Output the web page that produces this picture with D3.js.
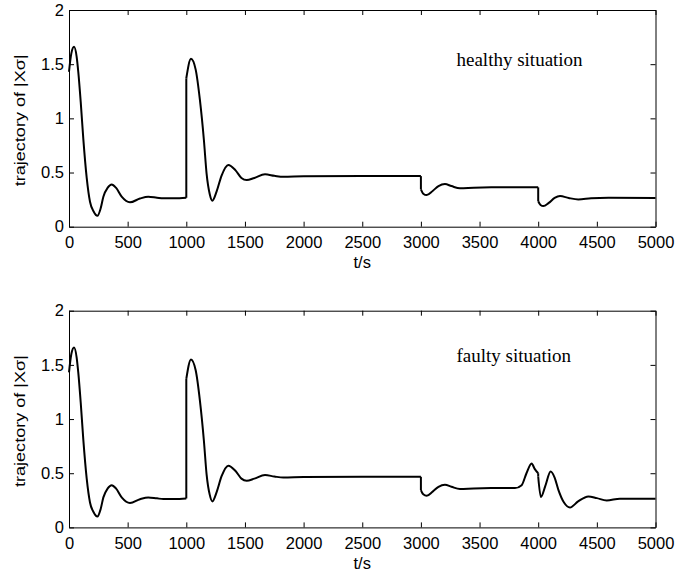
<!DOCTYPE html>
<html>
<head>
<meta charset="utf-8">
<script src="https://cdn.jsdelivr.net/npm/d3@7"></script>
<style>
  body { margin: 0; background: #fff; }
  svg text { fill: #000; }
</style>
</head>
<body>
<div id="chart"></div>
<script>
// x ticks, y ticks
const xTicks = [0, 500, 1000, 1500, 2000, 2500, 3000, 3500, 4000, 4500, 5000]
const yTicks = [0, 0.5, 1, 1.5, 2]

// trajectories; a repeated t marks a jump
const healthyT = [0, 20, 43, 65, 79, 100, 122, 151, 179, 210, 242, 270, 293, 330, 364, 400, 449, 520, 605, 676, 750, 804, 900, 1000,
  1000, 1040, 1080, 1116, 1150, 1173, 1200, 1222, 1260, 1300, 1358, 1420, 1470, 1515, 1580, 1671, 1750, 1827, 2000, 2500, 3000,
  3000, 3020, 3049, 3100, 3150, 3205, 3260, 3333, 3450, 3600, 4000,
  4000, 4020, 4044, 4090, 4140, 4186, 4260, 4342, 4450, 4600, 5000]
const healthyV = [1.43, 1.60, 1.66, 1.57, 1.43, 1.15, 0.81, 0.45, 0.23, 0.14, 0.10, 0.17, 0.277, 0.36, 0.39, 0.36, 0.277, 0.225, 0.26, 0.277, 0.268, 0.262, 0.262, 0.267,
  1.37, 1.55, 1.45, 1.17, 0.80, 0.49, 0.30, 0.24, 0.33, 0.47, 0.57, 0.52, 0.45, 0.43, 0.45, 0.483, 0.47, 0.46, 0.465, 0.467, 0.467,
  0.345, 0.305, 0.292, 0.33, 0.375, 0.393, 0.375, 0.354, 0.36, 0.363, 0.363,
  0.235, 0.20, 0.19, 0.22, 0.265, 0.283, 0.265, 0.252, 0.262, 0.267, 0.265]

const faultyT = [0, 20, 43, 65, 79, 100, 122, 151, 179, 210, 242, 270, 293, 330, 364, 400, 449, 520, 605, 676, 750, 804, 900, 1000,
  1000, 1040, 1080, 1116, 1150, 1173, 1200, 1222, 1260, 1300, 1358, 1420, 1470, 1515, 1580, 1671, 1750, 1827, 2000, 2500, 3000,
  3000, 3020, 3049, 3100, 3150, 3205, 3260, 3333, 3450, 3600, 3802, 3859, 3900, 3944, 3970, 4000,
  4000, 4023, 4060, 4106, 4140, 4172, 4220, 4271, 4340, 4428, 4500, 4584, 4697, 5000]
const faultyV = [1.43, 1.60, 1.66, 1.57, 1.43, 1.15, 0.81, 0.45, 0.23, 0.14, 0.10, 0.17, 0.277, 0.36, 0.39, 0.36, 0.277, 0.225, 0.26, 0.277, 0.268, 0.262, 0.262, 0.267,
  1.37, 1.55, 1.45, 1.17, 0.80, 0.49, 0.30, 0.24, 0.33, 0.47, 0.57, 0.52, 0.45, 0.43, 0.45, 0.483, 0.47, 0.46, 0.465, 0.467, 0.467,
  0.345, 0.305, 0.292, 0.33, 0.375, 0.393, 0.375, 0.354, 0.36, 0.363, 0.363, 0.39, 0.50, 0.59, 0.54, 0.50,
  0.47, 0.28, 0.38, 0.516, 0.46, 0.347, 0.23, 0.184, 0.24, 0.286, 0.27, 0.249, 0.265, 0.264]

const panels = [
  {top: 10, label: "healthy situation", labelY: 65.5, t: healthyT, v: healthyV},
  {top: 310.7, label: "faulty situation", labelY: 361.5, t: faultyT, v: faultyV},
]

const width = 676, height = 573
const left = 69, right = 655.5, plotH = 216.7

const svg = d3.select("#chart").append("svg")
  .attr("width", width)
  .attr("height", height)
  .style("font-family", "'Liberation Sans', Arial, sans-serif")

const x = d3.scaleLinear().domain([0, 5000]).range([left, right])

// split at repeated t so the jumps stay vertical
function segments(ts, vs) {
  const segs = [[]]
  ts.forEach((t, i) => {
    if (i > 0 && t === ts[i - 1]) segs.push([])
    segs[segs.length - 1].push([t, vs[i]])
  })
  return segs
}

for (const p of panels) {
  const y = d3.scaleLinear().domain([0, 2]).range([p.top + plotH, p.top])
  const g = svg.append("g")

  const fmt = d => String(d)
  g.append("g")
    .attr("transform", `translate(0,${p.top + plotH})`)
    .call(d3.axisBottom(x).tickValues(xTicks).tickFormat(fmt).tickSizeInner(-5).tickSizeOuter(0).tickPadding(9.5))
  g.append("g")
    .attr("transform", `translate(0,${p.top})`)
    .call(d3.axisTop(x).tickValues(xTicks).tickFormat("").tickSizeInner(-5).tickSizeOuter(0))
  g.append("g")
    .attr("transform", `translate(${left},0)`)
    .call(d3.axisLeft(y).tickValues(yTicks).tickFormat(fmt).tickSizeInner(-5).tickSizeOuter(0).tickPadding(5))
  g.append("g")
    .attr("transform", `translate(${right},0)`)
    .call(d3.axisRight(y).tickValues(yTicks).tickFormat("").tickSizeInner(-5).tickSizeOuter(0))

  g.selectAll(".tick text")
    .attr("font-size", 16.5)
    .attr("font-family", "'Liberation Sans', Arial, sans-serif")
  g.selectAll(".domain, .tick line").attr("stroke", "#000").attr("stroke-width", 1)

  const line = d3.line()
    .x(d => x(d[0]))
    .y(d => y(d[1]))
    .curve(d3.curveMonotoneX)

  const segs = segments(p.t, p.v)
  g.selectAll("path.seg")
    .data(segs)
    .join("path")
      .attr("class", "seg")
      .attr("d", line)
      .attr("fill", "none")
      .attr("stroke", "#000")
      .attr("stroke-width", 2)

  const jumps = segs.slice(1).map((s, i) => {
    const prev = segs[i]
    return [prev[prev.length - 1], s[0]]
  })
  g.selectAll("path.jump")
    .data(jumps)
    .join("path")
      .attr("class", "jump")
      .attr("d", d3.line().x(d => x(d[0])).y(d => y(d[1])))
      .attr("fill", "none")
      .attr("stroke", "#000")
      .attr("stroke-width", 2)

  g.append("text")
    .attr("x", x(2500))
    .attr("y", p.top + plotH + 41.5)
    .attr("text-anchor", "middle")
    .attr("font-size", 16.5)
    .text("t/s")

  g.append("text")
    .attr("transform", `translate(25,${p.top + plotH / 2 + 2}) rotate(-90)`)
    .attr("text-anchor", "middle")
    .attr("font-size", 14.5)
    .attr("textLength", 132)
    .attr("lengthAdjust", "spacingAndGlyphs")
    .text("trajectory of |Xσ|")

  g.append("text")
    .attr("x", 456.5)
    .attr("y", p.labelY)
    .attr("font-family", "'Liberation Serif', 'Times New Roman', serif")
    .attr("font-size", 19)
    .text(p.label)
}
</script>
</body>
</html>
